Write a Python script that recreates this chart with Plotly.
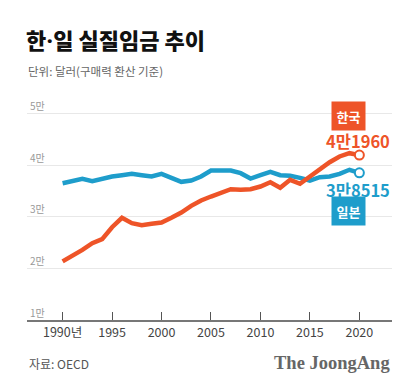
import plotly.graph_objects as go

years = list(range(1990, 2021))
korea = [21360, 22360, 23600, 24880, 25660, 27980, 29800, 28760, 28370, 28640,
         28900, 29800, 30830, 32120, 33160, 33930, 34570, 35350, 35230, 35350,
         35870, 36700, 35620, 37170, 36400, 37810, 39220, 40580, 41690, 42330,
         41960]
japan = [36510, 37030, 37360, 36900, 37420, 37810, 38060, 38330, 38060, 37810,
         38330, 37550, 36780, 37030, 37810, 38970, 38970, 38970, 38450, 37420,
         38060, 38720, 38060, 37940, 37550, 37030, 37680, 37810, 38330, 39110,
         38515]
x_tickvals = [1990, 1995, 2000, 2005, 2010, 2015, 2020]
x_ticktext = ["1990년", "1995", "2000", "2005", "2010", "2015", "2020"]
y_tickvals = [10000, 20000, 30000, 40000, 50000]
y_ticktext = ["1만", "2만", "3만", "4만", "5만"]

KR = "#EE5428"
JP = "#1E9DCB"
FONT = "Noto Sans CJK KR"

W, H = 420, 388
L, R, T, B = 27, 28, 96, 68
PW, PH = W - L - R, H - T - B
YTOP = 10000 + PH / 51.6 * 10000

def xp(px):
    return (px - L) / PW

def yp(py):
    return (H - B - py) / PH

fig = go.Figure()
fig.add_trace(go.Scatter(x=years, y=japan, mode="lines",
                         line=dict(color=JP, width=4.5), hoverinfo="skip"))
fig.add_trace(go.Scatter(x=years, y=korea, mode="lines",
                         line=dict(color=KR, width=4.5), hoverinfo="skip"))
fig.add_trace(go.Scatter(x=[years[-1]], y=[japan[-1]], mode="markers",
                         marker=dict(size=9, color="white", line=dict(color=JP, width=2))))
fig.add_trace(go.Scatter(x=[years[-1]], y=[korea[-1]], mode="markers",
                         marker=dict(size=9, color="white", line=dict(color=KR, width=2))))

ann = []
ann.append(dict(text="한<span style=\"font-family:Roboto\">·</span>일 실질임금 추이",
                x=xp(24), y=yp(39), xanchor="left",
                yanchor="middle", font=dict(size=22, color="#111", family=FONT, weight=900)))
ann.append(dict(text="단위: 달러(구매력 환산 기준)", x=xp(26), y=yp(71), xanchor="left",
                yanchor="middle", font=dict(size=11.5, color="#666", family=FONT)))
ann.append(dict(text="자료: OECD", x=xp(27), y=yp(363), xanchor="left",
                yanchor="middle", font=dict(size=12, color="#555", family=FONT)))
ann.append(dict(text="<b>The JoongAng</b>", x=xp(392), y=yp(363), xanchor="right",
                yanchor="middle", font=dict(size=18.5, color="#666", family="Liberation Serif")))
ann.append(dict(text="<b>한국</b>", x=xp(348.5), y=yp(115.5), xanchor="center",
                yanchor="middle", bgcolor=KR, borderpad=4.5,
                font=dict(size=13, color="white", family=FONT)))
ann.append(dict(text="<b>4만1960</b>", x=xp(392), y=yp(141), xanchor="right",
                yanchor="middle", font=dict(size=16.5, color=KR, family=FONT)))
ann.append(dict(text="<b>3만8515</b>", x=xp(392), y=yp(189.5), xanchor="right",
                yanchor="middle", font=dict(size=16.5, color=JP, family=FONT)))
ann.append(dict(text="<b>일본</b>", x=xp(348), y=yp(211), xanchor="center",
                yanchor="middle", bgcolor=JP, borderpad=4.5,
                font=dict(size=13, color="white", family=FONT)))
for a in ann:
    a.update(xref="paper", yref="paper", showarrow=False)

fig.update_layout(
    width=W, height=H, margin=dict(l=L, r=R, t=T, b=B),
    paper_bgcolor="white", plot_bgcolor="white", showlegend=False,
    annotations=ann,
    xaxis=dict(range=[1986.4, 2023.3], tickvals=x_tickvals, ticktext=x_ticktext,
               ticks="inside", ticklen=8, tickcolor="#555", tickwidth=1,
               showline=True, linecolor="#777", linewidth=1.5, showgrid=False,
               zeroline=False, fixedrange=True,
               tickfont=dict(size=12.5, color="#444", family=FONT)),
    yaxis=dict(range=[10000, YTOP], tickvals=y_tickvals, ticktext=y_ticktext,
               ticklabelposition="inside top", ticks="", showgrid=True,
               gridcolor="#E8E8E8", gridwidth=1, zeroline=False, showline=False,
               fixedrange=True,
               tickfont=dict(size=10, color="#999", family=FONT)),
)
fig.write_html("out.html", config={"displayModeBar": False},
               post_script="document.body.style.margin='0';")
